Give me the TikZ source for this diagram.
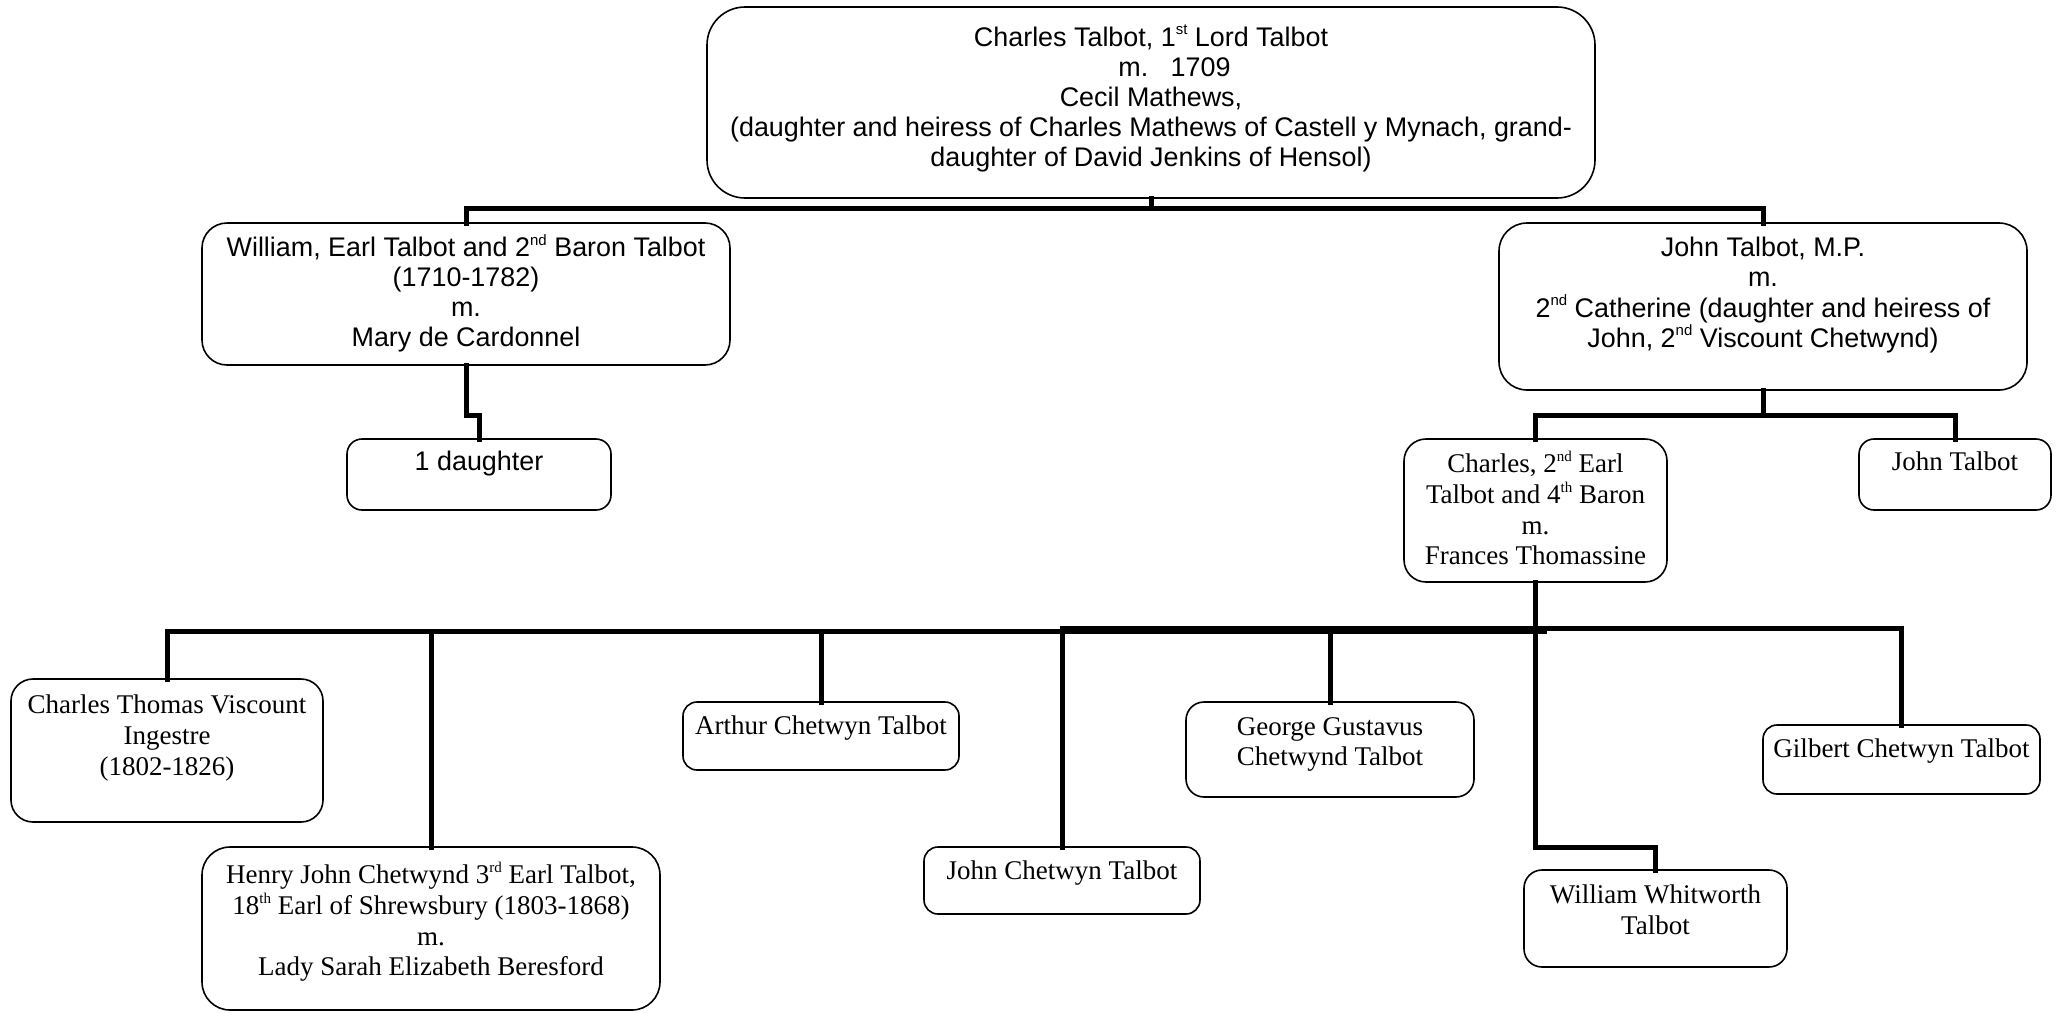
\documentclass[tikz,border=0pt]{standalone}
\usepackage{fontspec}
\setmainfont{Liberation Serif}
\newfontfamily\arialf{Liberation Sans}
\newcommand\fsa{\arialf\fontsize{26.9}{30.2}\selectfont}
\newcommand\fst{\rmfamily\fontsize{27}{30.6}\selectfont}
\newcommand\sups[1]{\raisebox{0.42em}{\fontsize{15}{15}\selectfont #1}}
\tikzset{
  famebox/.style={draw=black, line width=1.6pt, inner sep=0pt, outer sep=0pt},
  famtext/.style={anchor=north, align=center, inner sep=0pt},
  conn/.style={draw=black, line width=5pt, line join=miter, line cap=rect}
}
% name, x1, y1, x2, y2, radius, font, text, text offset
\newcommand\tbox[9]{%
  \node[famebox, rounded corners=#6pt, minimum width={#4-#2}, minimum height={#5-#3}]
    (#1) at ({(#2+#4)/2},{(#3+#5)/2}) {};
  \node[famtext, font=#7] (#1-t) at ([yshift=-#9pt]#1.north) {#8};
}
\begin{document}
\begin{tikzpicture}[x=1pt,y=-1pt]
\useasboundingbox (0,0) rectangle (2060,1012);
\fill[white] (0,0) rectangle (2060,1012);

\tbox{top}{707}{7}{1595}{198}{38}{\fsa}{Charles Talbot, 1\sups{st} Lord Talbot\\\hspace*{47pt}m.\ \ \ 1709\\Cecil Mathews,\\(daughter and heiress of Charles Mathews of Castell y Mynach, grand-\\daughter of David Jenkins of Hensol)}{18}
\tbox{will}{202}{223}{730}{365}{25}{\fsa}{William, Earl Talbot and 2\sups{nd} Baron Talbot\\(1710-1782)\\m.\\Mary de Cardonnel}{11}
\tbox{jt}{1499}{223}{2027}{390}{28}{\fsa}{John Talbot, M.P.\\m.\\2\sups{nd} Catherine (daughter and heiress of\\John, 2\sups{nd} Viscount Chetwynd)}{14}
\tbox{dau}{347}{439}{611}{510}{15}{\fsa}{1 daughter}{12}
\tbox{ch2}{1404}{439}{1667}{582}{22}{\fst}{Charles, 2\sups{nd} Earl\\Talbot and 4\sups{th} Baron\\m.\\Frances Thomassine}{12}
\tbox{js}{1859}{439}{2051}{510}{15}{\fst}{John Talbot}{13}
\tbox{ct}{11}{679}{323}{822}{22}{\fst}{Charles Thomas Viscount\\Ingestre\\(1802-1826)}{16}
\tbox{henry}{202}{847}{660}{1010}{28}{\fst}{Henry John Chetwynd 3\sups{rd} Earl Talbot,\\18\sups{th} Earl of Shrewsbury (1803-1868)\\m.\\Lady Sarah Elizabeth Beresford}{15}
\tbox{arthur}{683}{702}{959}{770}{14}{\fst}{Arthur Chetwyn Talbot}{14}
\tbox{jc}{924}{847}{1200}{914}{14}{\fst}{John Chetwyn Talbot}{14}
\tbox{george}{1186}{702}{1474}{797}{18}{\fst}{George Gustavus\\Chetwynd Talbot}{15}
\tbox{ww}{1524}{870}{1787}{967}{18}{\fst}{William Whitworth\\Talbot}{15}
\tbox{gil}{1763}{725}{2040}{794}{14}{\fst}{Gilbert Chetwyn Talbot}{14}

% generation 1 -> 2
\coordinate (tb) at (1151,208);
\draw[conn] (will.north) |- (tb) -| (jt.north);
\draw[conn] (top.south) -- (tb);

% William -> daughter
\draw[conn] (will.south) -- ++(0,50) -| (dau.north);

% John Talbot MP -> children
\coordinate (jb) at (1763,415);
\draw[conn] (jt.south) -- (jb);
\draw[conn] (ch2.north) |- (jb) -| (js.north);

% Charles 2nd Earl -> children
\coordinate (lb) at (1544,631);
\coordinate (rb) at (1062,628);
\draw[conn] (ct.north) |- (lb);
\draw[conn] (jc.north) |- (gil.north |- rb) -- (gil.north);
\draw[conn] (henry.north) -- (henry.north |- lb);
\draw[conn] (arthur.north) -- (arthur.north |- lb);
\draw[conn] (george.north) -- (george.north |- rb);
\draw[conn] (ch2.south) -- ++(0,265) -| (ww.north);
\end{tikzpicture}
\end{document}
